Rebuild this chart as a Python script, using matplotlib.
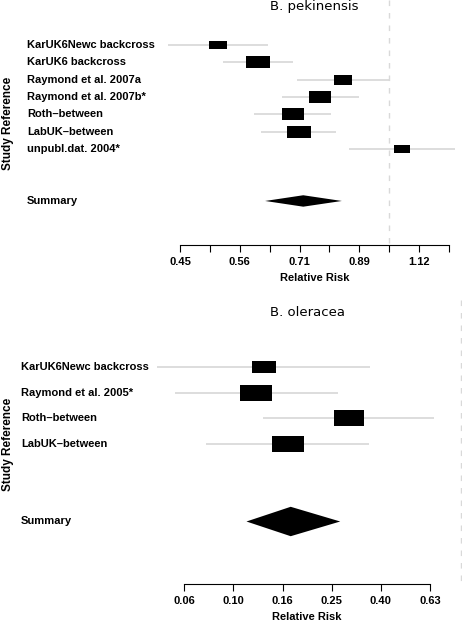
import numpy as np
import matplotlib
matplotlib.use('Agg')
import matplotlib.pyplot as plt
from matplotlib.path import Path
import matplotlib.transforms as mtransforms

# B. pekinensis
pek_studies = ['KarUK6Newc backcross', 'KarUK6 backcross', 'Raymond et al. 2007a',
               'Raymond et al. 2007b*', 'Roth\u2013between', 'LabUK\u2013between',
               'unpubl.dat. 2004*']
pek_rr = [0.518, 0.604, 0.837, 0.767, 0.689, 0.705, 1.051]
pek_lo = [0.427, 0.527, 0.702, 0.661, 0.594, 0.610, 0.856]
pek_hi = [0.628, 0.691, 1.000, 0.890, 0.798, 0.814, 1.288]
pek_summary = [0.718, 0.620, 0.833]
pek_ticklabels = ['0.45', '', '0.56', '', '0.71', '', '0.89', '', '1.12', '']

# B. oleracea
ole_studies = ['KarUK6Newc backcross', 'Raymond et al. 2005*', 'Roth\u2013between',
               'LabUK\u2013between']
ole_rr = [0.133, 0.124, 0.294, 0.166]
ole_lo = [0.049, 0.058, 0.132, 0.077]
ole_hi = [0.360, 0.266, 0.655, 0.357]
ole_summary = [0.171, 0.113, 0.272]
ole_ticklabels = ['0.06', '0.10', '0.16', '0.25', '0.40', '0.63']

LAB = dict(family='Liberation Sans', fontweight='bold', fontsize=8)
# 2:1 rectangle marker for the study boxes
BOX = Path([(-1, -0.5), (1, -0.5), (1, 0.5), (-1, 0.5), (-1, -0.5)],
           [Path.MOVETO, Path.LINETO, Path.LINETO, Path.LINETO, Path.CLOSEPOLY])


def forest(ax, title, studies, rr, lo, hi, summary, ticks, ticklabels, axis_y,
           label_x, box_max, diamond_h, title_y, ref_x=None):
    rr, lo, hi = np.array(rr), np.array(lo), np.array(hi)
    n = len(studies)
    rows = np.arange(n)
    sum_row = n + 2
    ax.set_xscale('log')
    blend = mtransforms.blended_transform_factory(ax.transAxes, ax.transData)

    # reference line (RR = 1, or right edge when 1 is off the scale)
    top = ax.get_ylim()[1]
    if ref_x is None:
        ax.plot([1.0, 1.0], [top, axis_y], color='#d9d9d9', lw=1,
                ls=(0, (4, 5)), zorder=1)
    else:
        ax.plot([ref_x, ref_x], [top, axis_y], color='#d9d9d9', lw=1,
                ls=(0, (4, 5)), transform=blend, zorder=1, clip_on=False)

    # confidence intervals and boxes (box size ~ precision)
    prec = 1 / np.log(hi / lo)
    rel = prec / prec.max()
    ax.hlines(rows, lo, hi, color='#d3d3d3', lw=1.1, zorder=2)
    for y, r, s in zip(rows, rr, rel):
        ax.plot(r, y, marker=BOX, ms=box_max * s, mew=0, color='black', zorder=3)

    # summary diamond
    est, slo, shi = summary
    ax.fill([slo, est, shi, est],
            [sum_row, sum_row - diamond_h, sum_row, sum_row + diamond_h],
            color='black', lw=0, zorder=3)

    # study labels
    for y, s in zip(rows, studies):
        ax.text(label_x, y, s, transform=blend, ha='left', va='center', **LAB)
    ax.text(label_x, sum_row, 'Summary', transform=blend, ha='left', va='center', **LAB)
    ax.text(8.5 / 462, sum_row / 2, 'Study Reference', transform=blend, rotation=90,
            ha='center', va='center', family='Liberation Sans', fontweight='bold',
            fontsize=8.5)

    # x axis
    for sp in ['top', 'right', 'left']:
        ax.spines[sp].set_visible(False)
    ax.spines['bottom'].set_position(('data', axis_y))
    ax.spines['bottom'].set_bounds(ticks[0], ticks[-1])
    ax.spines['bottom'].set_linewidth(0.8)
    ax.set_xticks(ticks)
    ax.set_xticklabels(ticklabels)
    ax.xaxis.set_minor_locator(plt.NullLocator())
    ax.tick_params(axis='x', direction='out', length=5, width=0.8, pad=3.5)
    for t in ax.get_xticklabels():
        t.set_fontfamily('Liberation Sans')
        t.set_fontweight('bold')
        t.set_fontsize(8)
    ax.set_yticks([])
    mid = np.sqrt(ticks[0] * ticks[-1])
    ax.annotate('Relative Risk', (mid, axis_y), xytext=(0, -23.5),
                textcoords='offset points', ha='center', va='center', **LAB)
    ax.text(mid, title_y, title, ha='center', va='center', family='DejaVu Sans',
            fontsize=9.5)


fig = plt.figure(figsize=(4.62, 6.22), dpi=100)

# top panel covers pixel rows 0..300, bottom 300..622
ax1 = fig.add_axes([0, 1 - 300 / 622, 1, 300 / 622])
ax2 = fig.add_axes([0, 0, 1, 322 / 622])
ax1.set_ylim((300 - 45) / 17.33, -45 / 17.33)
ax1.set_xlim(10 ** -0.651, 10 ** 0.1216)
ax2.set_ylim((622 - 366.7) / 25.8, (300 - 366.7) / 25.8)
ax2.set_xlim(10 ** -1.950, 10 ** -0.0698)

pek_ticks = 10 ** (-0.35 + 0.05 * np.arange(len(pek_ticklabels)))
ole_ticks = 10 ** (-1.2 + 0.2 * np.arange(len(ole_ticklabels)))

forest(ax1, 'B. pekinensis', pek_studies, pek_rr, pek_lo, pek_hi, pek_summary,
       pek_ticks, pek_ticklabels, (245 - 45) / 17.33, 27 / 462, 17.8, 0.33, -2.2)
forest(ax2, 'B. oleracea', ole_studies, ole_rr, ole_lo, ole_hi, ole_summary,
       ole_ticks, ole_ticklabels, (584 - 366.7) / 25.8, 21 / 462, 23.0, 0.57, -2.1,
       ref_x=0.998)

fig.savefig('out.png', dpi=100)
